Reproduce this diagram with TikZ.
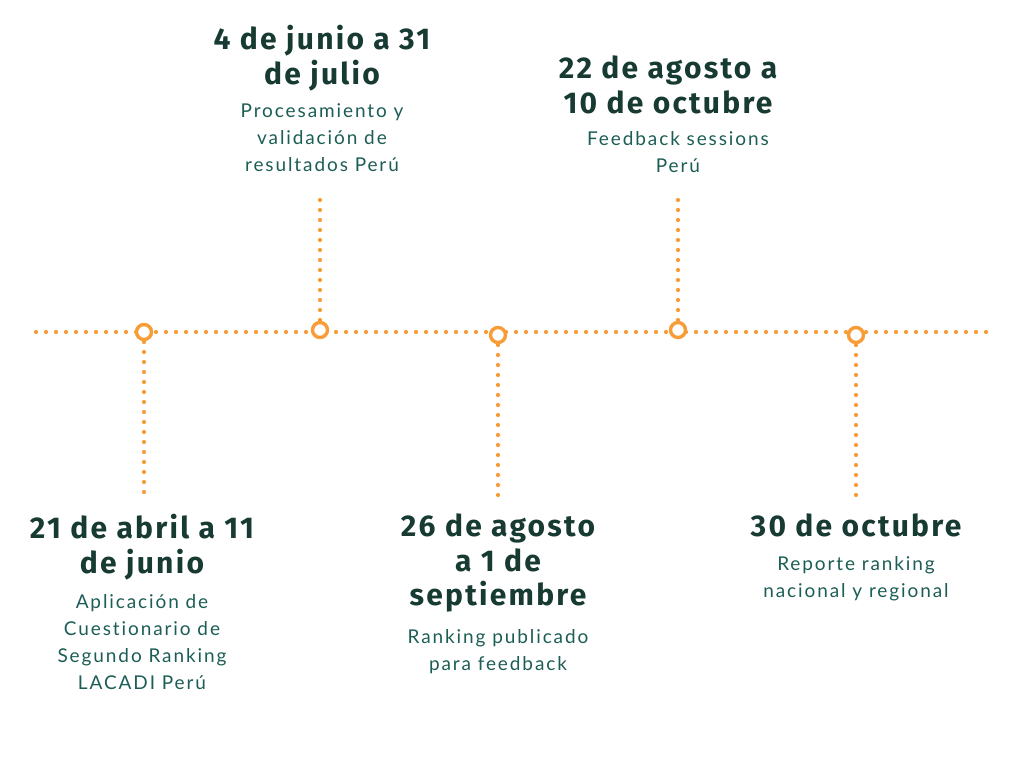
\documentclass[tikz,border=0pt]{standalone}
\usepackage{fontspec}
\usepackage{tikz}
\usetikzlibrary{positioning}
\newfontfamily\datefont[LetterSpace=7.5]{Fira Sans Bold}
\newfontfamily\notefont[LetterSpace=10,Ligatures=NoCommon]{Lato}
\definecolor{lineorange}{HTML}{F79C36}
\definecolor{dategreen}{HTML}{173A33}
\definecolor{notegreen}{HTML}{1C5D55}

\begin{document}
\begin{tikzpicture}[x=1pt,y=-1pt,
	dotline/.style={lineorange,line width=4.2pt,line cap=round,dash pattern=on 0pt off 10pt},
	milestone/.style={circle,draw=lineorange,fill=white,line width=3.4pt,minimum size=15pt,inner sep=0pt},
	datetext/.style={anchor=north,align=center,inner sep=0pt,text=dategreen,font=\datefont\fontsize{30}{34.5}\selectfont},
	notetext/.style={anchor=north,align=center,inner sep=0pt,text=notegreen,font=\notefont\fontsize{19}{27}\selectfont}]
\useasboundingbox (0,0) rectangle (1024,768);
\coordinate (lft) at (36,332);
\coordinate (rgt) at (990,332);
\draw[dotline] (lft) -- (rgt);
% milestones on the line
\foreach \n/\x/\y in {1/144/332,2/320/330,3/498/335,4/678/330,5/856/335} {
	\coordinate (p\n) at (\x,\y);
}
% free ends of the drops
\coordinate (e1) at (144,493);
\coordinate (e2) at (320,193);
\coordinate (e3) at (498,496);
\coordinate (e4) at (678,193);
\coordinate (e5) at (856,496);
\foreach \n in {1,...,5} {
	\draw[dotline] (p\n) -- (e\n);
}
\foreach \n in {1,...,5} {
	\node[milestone] (m\n) at (p\n) {};
}
% dates and notes
\node[datetext] (d1) at (142,514) {21 de abril a 11\\de junio};
\node[notetext] (n1) at (142,594) {Aplicación de\\Cuestionario de\\Segundo Ranking\\LACADI Perú};
\node[datetext] (d2) at (322,25) {4 de junio a 31\\de julio};
\node[notetext] (n2) at (322,103) {Procesamiento y\\validación de\\resultados Perú};
\node[datetext] (d3) at (498,514) {26 de agosto\\a 1 de\\septiembre};
\node[notetext] (n3) at (498,629) {Ranking publicado\\para feedback};
\node[datetext] (d4) at (668,56) {22 de agosto a\\10 de octubre};
\node[notetext] (n4) at (678,131) {Feedback sessions\\Perú};
\node[datetext] (d5) at (856,514) {30 de octubre};
\node[notetext] (n5) at (856,556) {Reporte ranking\\nacional y regional};
\end{tikzpicture}
\end{document}
